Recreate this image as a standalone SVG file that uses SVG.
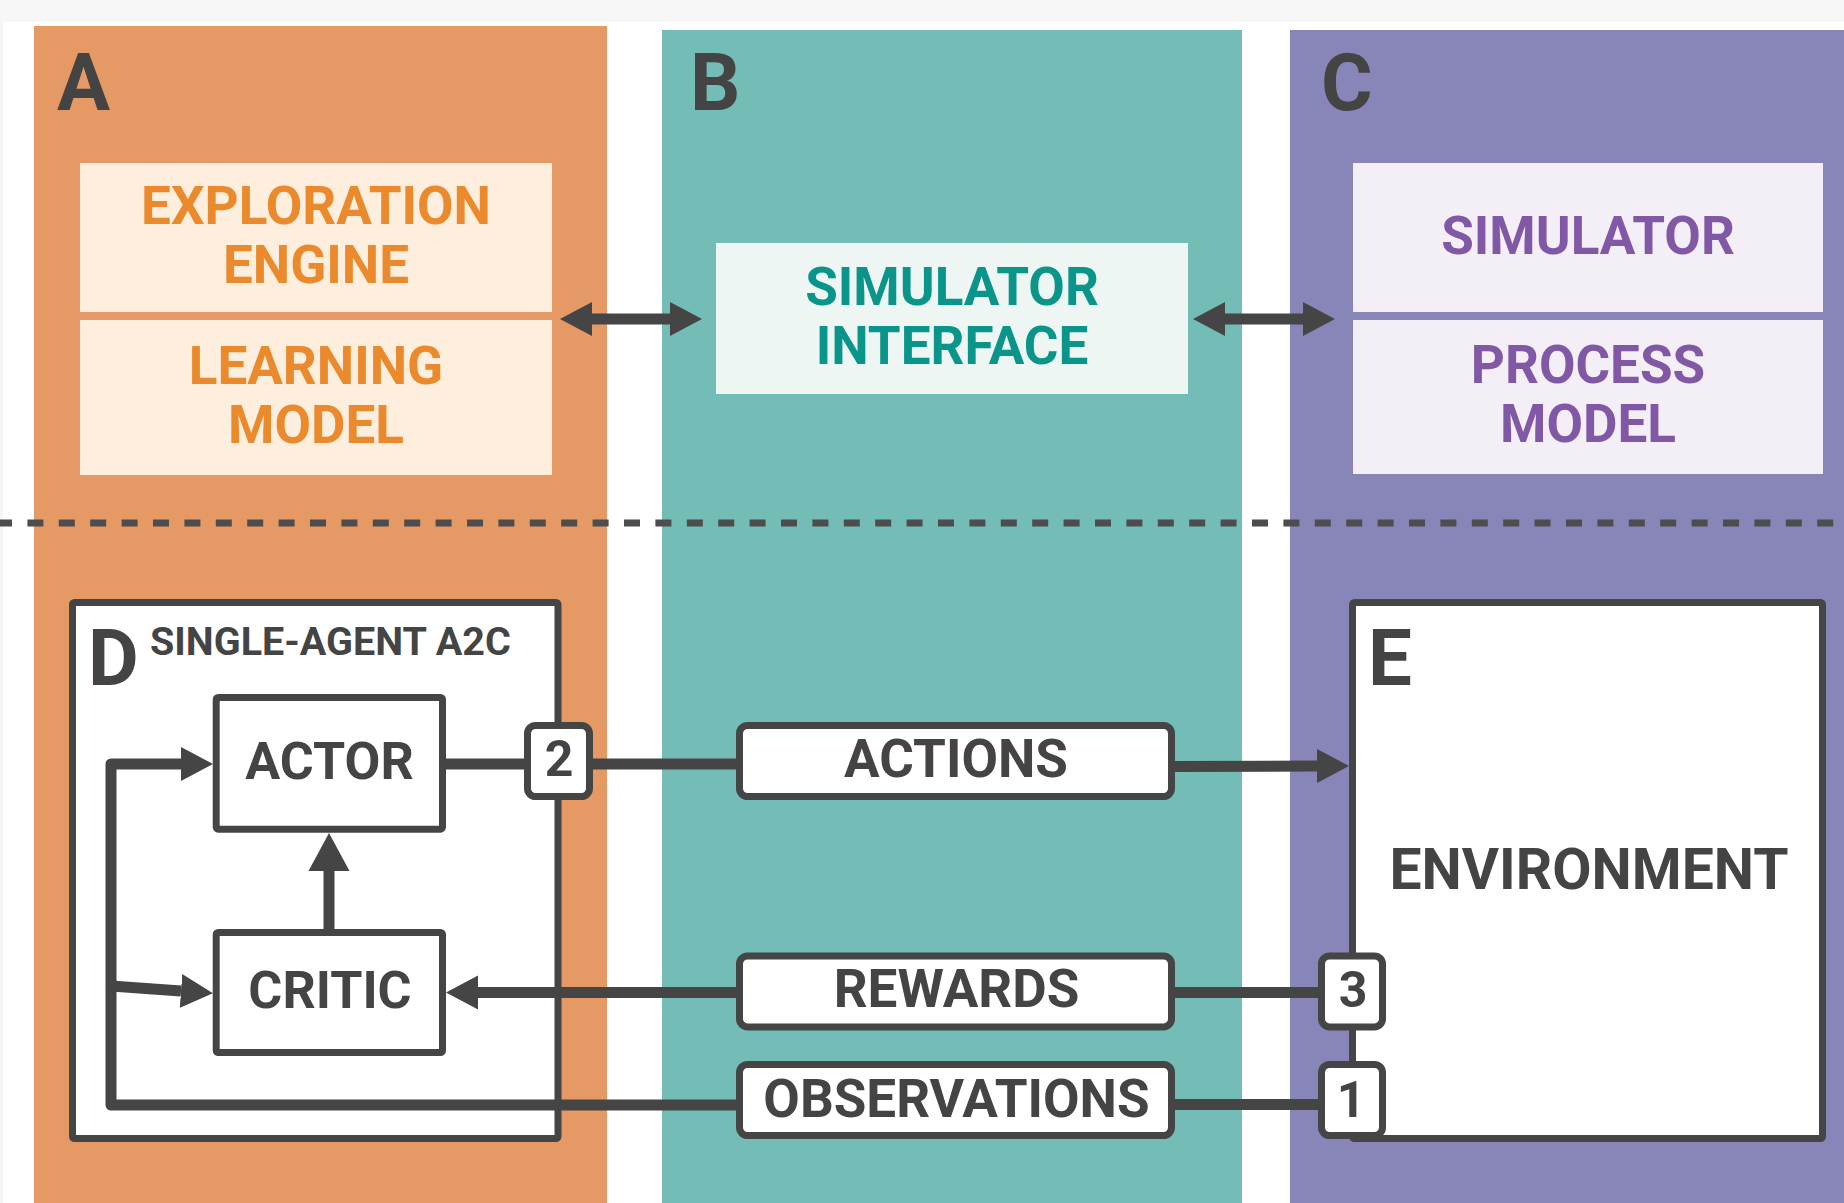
<svg xmlns="http://www.w3.org/2000/svg" width="1844" height="1203" viewBox="0 0 1844 1203">
<style>
  text { font-family: Roboto, "Liberation Sans", sans-serif; font-weight: 700; }
  .big { font-size: 79px; fill: #444444; }
  .topA { font-size: 53px; fill: #ea8a2c; text-anchor: middle; }
  .topB { font-size: 53px; fill: #0a958a; text-anchor: middle; }
  .topC { font-size: 53px; fill: #8158a6; text-anchor: middle; }
  .lbl { font-size: 53px; fill: #444444; text-anchor: middle; }
  .num { font-size: 50px; fill: #444444; text-anchor: middle; }
  .frame { fill: #ffffff; stroke: #454545; stroke-width: 7; stroke-linejoin: round; }
  .tag { fill: #ffffff; stroke: #454545; stroke-width: 7; }
  .conn { fill: none; stroke: #454545; stroke-width: 11; stroke-linejoin: round; }
</style>
<defs>
  <marker id="arr" markerUnits="userSpaceOnUse" markerWidth="40" markerHeight="40" viewBox="0 -20 40 40" refX="0" refY="0" orient="auto-start-reverse">
    <path d="M0,-17 L32,0 L0,17 Z" fill="#454545"/>
  </marker>
  <marker id="arrBig" markerUnits="userSpaceOnUse" markerWidth="44" markerHeight="44" viewBox="0 -22 44 44" refX="0" refY="0" orient="auto">
    <path d="M0,-20.5 L38,0 L0,20.5 Z" fill="#454545"/>
  </marker>
</defs>

<rect x="0" y="0" width="1844" height="1203" fill="#ffffff"/>
<rect x="0" y="0" width="1844" height="22" fill="#f7f7f7"/>
<rect x="0" y="22" width="3" height="1181" fill="#f5f5f5"/>

<g id="panel-A">
  <rect x="34" y="26" width="573" height="1177" fill="#e59a66"/>
  <text class="big" x="57" y="110">A</text>
</g>
<g id="panel-B">
  <rect x="662" y="30" width="580" height="1173" fill="#73bdb6"/>
  <text class="big" x="690" y="110">B</text>
</g>
<g id="panel-C">
  <rect x="1290" y="30" width="554" height="1173" fill="#8886b9"/>
  <text class="big" x="1321" y="110">C</text>
</g>

<g id="exploration-engine">
  <rect x="80" y="163" width="472" height="149" fill="#fdeedd"/>
  <text class="topA" x="316" y="224">EXPLORATION</text>
  <text class="topA" x="316" y="283">ENGINE</text>
</g>
<g id="learning-model">
  <rect x="80" y="320" width="472" height="155" fill="#fdeedd"/>
  <text class="topA" x="316" y="384">LEARNING</text>
  <text class="topA" x="316" y="443">MODEL</text>
</g>
<g id="simulator-interface">
  <rect x="716" y="243" width="472" height="151" fill="#edf6f3"/>
  <text class="topB" x="952" y="305">SIMULATOR</text>
  <text class="topB" x="952" y="364">INTERFACE</text>
</g>
<g id="simulator">
  <rect x="1353" y="163" width="470" height="149" fill="#f4eff6"/>
  <text class="topC" x="1588" y="254">SIMULATOR</text>
</g>
<g id="process-model">
  <rect x="1353" y="320" width="470" height="154" fill="#f4eff6"/>
  <text class="topC" x="1588" y="383">PROCESS</text>
  <text class="topC" x="1588" y="442">MODEL</text>
</g>

<line x1="-4" y1="523" x2="1844" y2="523" stroke="#4d4d4d" stroke-width="7" stroke-dasharray="16 15.4"/>

<g id="single-agent-a2c">
  <rect class="frame" x="72.5" y="602.5" width="485.5" height="536" rx="2"/>
  <text class="big" x="88" y="685" style="font-size:78px">D</text>
  <text x="150" y="655" style="font-size:39.5px; fill:#444444">SINGLE-AGENT A2C</text>
</g>
<g id="environment">
  <rect class="frame" x="1352.5" y="602.5" width="470" height="536" rx="2"/>
  <text class="big" x="1368" y="685" style="font-size:78px">E</text>
  <text class="lbl" x="1589" y="889" style="font-size:57px">ENVIRONMENT</text>
</g>
<g id="actor">
  <rect class="frame" x="216.2" y="697.5" width="226.3" height="131.7" rx="2"/>
  <text class="lbl" x="329.5" y="779" style="font-size:52px">ACTOR</text>
</g>
<g id="critic">
  <rect class="frame" x="216.2" y="932.5" width="226.3" height="120" rx="2"/>
  <text class="lbl" x="330" y="1008" style="font-size:52px">CRITIC</text>
</g>

<g id="connectors">
  <line class="conn" x1="592" y1="319" x2="670" y2="319" stroke-width="10" marker-start="url(#arr)" marker-end="url(#arr)"/>
  <line class="conn" x1="1225" y1="319" x2="1303" y2="319" stroke-width="10" marker-start="url(#arr)" marker-end="url(#arr)"/>
  <line class="conn" x1="446" y1="764" x2="524" y2="764"/>
  <line class="conn" x1="593" y1="764" x2="736" y2="764"/>
  <line class="conn" x1="1175" y1="766.5" x2="1317" y2="766" marker-end="url(#arr)"/>
  <line class="conn" x1="1318" y1="992.5" x2="1175" y2="992.5"/>
  <line class="conn" x1="736" y1="992.5" x2="478" y2="992.5" marker-end="url(#arr)"/>
  <line class="conn" x1="1318" y1="1104.5" x2="1175" y2="1104.5"/>
  <path class="conn" d="M736,1105 L111,1105 L111,764 L181,764" marker-end="url(#arr)"/>
  <path class="conn" d="M111,986 L181,991" marker-end="url(#arr)"/>
  <line class="conn" x1="329" y1="929" x2="329" y2="871" stroke-width="10" marker-end="url(#arrBig)"/>
</g>

<g id="actions">
  <rect class="tag" x="739.5" y="725.5" width="432" height="71" rx="8"/>
  <text class="lbl" x="956" y="777">ACTIONS</text>
</g>
<g id="rewards">
  <rect class="tag" x="739.5" y="955.9" width="432" height="71" rx="8"/>
  <text class="lbl" x="956.5" y="1007">REWARDS</text>
</g>
<g id="observations">
  <rect class="tag" x="739.5" y="1064.5" width="432" height="71" rx="8"/>
  <text class="lbl" x="956.5" y="1116.5">OBSERVATIONS</text>
</g>
<g id="tag-2">
  <rect class="tag" x="527.5" y="725.5" width="62" height="71" rx="8"/>
  <text class="num" x="559" y="776">2</text>
</g>
<g id="tag-3">
  <rect class="tag" x="1321.5" y="955.9" width="61" height="71" rx="8"/>
  <text class="num" x="1353" y="1007">3</text>
</g>
<g id="tag-1">
  <rect class="tag" x="1321.5" y="1064.5" width="61" height="71" rx="8"/>
  <text class="num" x="1351" y="1116.5">1</text>
</g>
</svg>
